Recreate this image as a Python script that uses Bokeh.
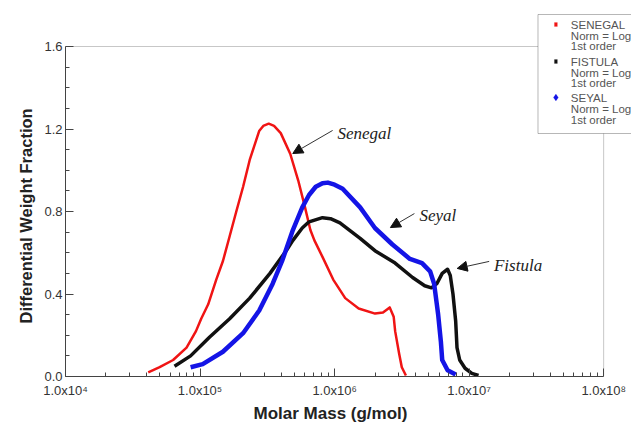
from bokeh.plotting import figure
from bokeh.models import (Range1d, FixedTicker, PrintfTickFormatter, Label, Arrow, NormalHead,
                          BoxAnnotation, PolyAnnotation, Title)
from bokeh.embed import file_html
from bokeh.resources import INLINE

# ---------------- data ----------------
senegal_m = [4.12e4, 5.01e4, 6.31e4, 7.94e4, 9.33e4, 1.02e5, 1.15e5, 1.32e5, 1.48e5, 1.66e5,
             1.86e5, 2.09e5, 2.34e5, 2.75e5, 2.95e5, 3.24e5, 3.55e5, 3.98e5, 4.68e5, 5.37e5,
             6.03e5, 6.61e5, 7.08e5, 8.13e5, 9.77e5, 1.20e6, 1.51e6, 2.00e6, 2.29e6, 2.57e6,
             2.75e6, 2.82e6, 3.02e6, 3.16e6, 3.39e6]
senegal_w = [0.02, 0.045, 0.08, 0.14, 0.22, 0.28, 0.35, 0.47, 0.56, 0.68,
             0.80, 0.92, 1.05, 1.19, 1.215, 1.226, 1.215, 1.18, 1.08, 0.95,
             0.82, 0.71, 0.66, 0.58, 0.47, 0.38, 0.33, 0.305, 0.31, 0.335,
             0.29, 0.22, 0.11, 0.045, 0.005]

fistula_m = [6.46e4, 8.51e4, 1.175e5, 1.66e5, 2.34e5, 3.31e5, 4.37e5, 4.90e5, 5.75e5, 6.46e5,
             8.13e5, 9.33e5, 1.096e6, 1.288e6, 1.549e6, 1.995e6, 2.818e6, 3.802e6, 4.677e6, 5.248e6,
             5.754e6, 6.310e6, 6.918e6, 7.244e6, 7.586e6, 7.943e6, 8.128e6, 8.511e6, 9.333e6, 1.047e7,
             1.175e7]
fistula_w = [0.05, 0.10, 0.19, 0.28, 0.38, 0.50, 0.61, 0.66, 0.72, 0.75,
             0.77, 0.765, 0.745, 0.71, 0.67, 0.61, 0.55, 0.48, 0.44, 0.43,
             0.45, 0.50, 0.52, 0.49, 0.40, 0.27, 0.14, 0.08, 0.04, 0.015,
             0.005]

seyal_m = [8.51e4, 1.047e5, 1.479e5, 2.089e5, 2.754e5, 3.467e5, 4.074e5, 4.898e5, 5.754e5, 6.46e5,
           7.244e5, 8.13e5, 8.913e5, 1.0e6, 1.148e6, 1.549e6, 1.995e6, 2.692e6, 3.631e6, 4.467e6,
           5.129e6, 5.495e6, 5.754e6, 5.888e6, 6.166e6, 6.310e6, 6.918e6, 7.943e6]
seyal_w = [0.045, 0.06, 0.12, 0.21, 0.32, 0.45, 0.56, 0.71, 0.82, 0.88,
           0.92, 0.937, 0.94, 0.93, 0.91, 0.82, 0.72, 0.64, 0.57, 0.55,
           0.51, 0.45, 0.35, 0.30, 0.17, 0.08, 0.03, 0.01]

xtick_values = [1e4, 1e5, 1e6, 1e7, 1e8]
xtick_labels = ["1.0x10\u2074", "1.0x10\u2075", "1.0x10\u2076", "1.0x10\u2077", "1.0x10\u2078"]
ytick_values = [0.0, 0.4, 0.8, 1.2, 1.6]

x_title = "Molar Mass (g/mol)"
y_title = "Differential Weight Fraction"

legend_lines = [["SENEGAL", "Norm = Log", "1st order"],
                ["FISTULA", "Norm = Log", "1st order"],
                ["SEYAL", "Norm = Log", "1st order"]]
series_colors = ["#f01414", "#111111", "#1414e6"]

ann_text = ["Senegal", "Seyal", "Fistula"]
ann_x = [1.05e6, 4.27e6, 1.53e7]
ann_y = [1.178, 0.781, 0.538]
arrow_x0 = [9.67e5, 3.92e6, 1.41e7]
arrow_y0 = [1.193, 0.790, 0.558]
arrow_x1 = [4.89e5, 2.60e6, 8.15e6]
arrow_y1 = [1.081, 0.722, 0.524]

# ---------------- geometry (canvas pixels) ----------------
W, H = 631, 423
AX_L, AX_R, AX_T, AX_B = 62, 603, 46, 376   # where the axes box lies
FR_T = 8                                     # frame extends up/right so the legend can overlap


def px_x(px):
    # canvas pixel -> data x (log axis), used only to place decorations
    return 10 ** (4 + 4 * (px - AX_L) / (AX_R - AX_L))


def px_y(py):
    return 1.6 * (AX_B - py) / (AX_B - AX_T)


p = figure(width=W, height=H, x_axis_type="log",
           x_range=Range1d(1e4, px_x(W)), y_range=Range1d(0, px_y(FR_T)),
           output_backend="svg", toolbar_location=None,
           min_border_left=AX_L + 3, min_border_right=0, min_border_top=FR_T,
           min_border_bottom=H - AX_B)
p.grid.visible = False
p.outline_line_color = None
p.background_fill_color = "white"
p.border_fill_color = "white"

FONT = "Liberation Sans"

minor_x = [k * d for d in [1e4, 1e5, 1e6, 1e7] for k in range(2, 10)]
p.xaxis.ticker = FixedTicker(ticks=xtick_values, minor_ticks=minor_x)
p.xaxis.major_label_overrides = {v: l for v, l in zip(xtick_values, xtick_labels)}
p.xaxis.bounds = (1e4, 1e8)
p.yaxis.ticker = FixedTicker(ticks=ytick_values, minor_ticks=[i / 10 for i in range(1, 16)])
p.yaxis.formatter = PrintfTickFormatter(format="%.1f")
p.yaxis.bounds = (0, 1.6)

for ax in (p.xaxis[0], p.yaxis[0]):
    ax.axis_line_color = "#444444"
    ax.major_tick_line_color = "#444444"
    ax.minor_tick_line_color = "#444444"
    ax.major_tick_in = 8
    ax.major_tick_out = 0
    ax.minor_tick_in = 4
    ax.minor_tick_out = 0
    ax.major_label_text_font = FONT
    ax.major_label_text_font_size = "13px"
    ax.major_label_text_color = "#333333"
p.xaxis.major_label_standoff = 6
p.yaxis.major_label_standoff = 3

# axis titles, positioned along the axes box (not the extended frame)
p.add_layout(Title(text=x_title, align="left", offset=188, standoff=2,
                   text_font=FONT, text_font_style="bold", text_font_size="17px",
                   text_color="#222222"), "below")
p.add_layout(Title(text=y_title, align="left", offset=AX_B - 323, standoff=14,
                   text_font=FONT, text_font_style="bold", text_font_size="16.5px",
                   text_color="#222222"), "left")

# box around the axes area (top and right sides)
p.add_layout(BoxAnnotation(left=1e4, right=1e8, bottom=0, top=1.6, fill_color=None,
                           line_color="#444444", line_width=1))

# ---------------- curves ----------------
p.line(senegal_m, senegal_w, line_color=series_colors[0], line_width=2.5, line_join="round")
p.line(fistula_m, fistula_w, line_color=series_colors[1], line_width=3.5, line_join="round")
p.line(seyal_m, seyal_w, line_color=series_colors[2], line_width=4.5, line_join="round")

# ---------------- legend box (drawn with annotations) ----------------
p.add_layout(BoxAnnotation(left=px_x(537), right=px_x(W + 20), top=px_y(14), bottom=px_y(133),
                           fill_color="white", fill_alpha=1.0,
                           line_color="#111111", line_width=1, level="overlay"))
row_y = [[24, 35, 45], [61, 72, 82], [97, 108, 119]]
for lines, rows, col, i in zip(legend_lines, row_y, series_colors, range(3)):
    for txt, ry in zip(lines, rows):
        p.add_layout(Label(x=px_x(570), y=px_y(ry), text=txt, text_font=FONT,
                           text_font_size="11.5px", text_color="#555555",
                           text_baseline="middle", text_align="left", level="overlay"))
    cy = rows[0]
    if i < 2:
        p.add_layout(BoxAnnotation(left=px_x(553.5), right=px_x(556.5), top=px_y(cy - 2),
                                   bottom=px_y(cy + 2), fill_color=col, fill_alpha=1.0,
                                   line_color=col, line_width=0.5, level="overlay"))
    else:
        p.add_layout(PolyAnnotation(xs=[px_x(555), px_x(557.5), px_x(555), px_x(552.5)],
                                    ys=[px_y(cy - 3.5), px_y(cy), px_y(cy + 3.5), px_y(cy)],
                                    fill_color=col, fill_alpha=1.0, line_color=col,
                                    line_width=0.5, level="overlay"))

# ---------------- annotations ----------------
for t, x, y in zip(ann_text, ann_x, ann_y):
    p.add_layout(Label(x=x, y=y, text=t, text_font="Liberation Serif", text_font_style="italic",
                       text_font_size="17px", text_color="#222222", text_baseline="alphabetic",
                       text_align="left"))
for x0, y0, x1, y1 in zip(arrow_x0, arrow_y0, arrow_x1, arrow_y1):
    p.add_layout(Arrow(x_start=x0, y_start=y0, x_end=x1, y_end=y1, line_color="#333333",
                       line_width=1,
                       end=NormalHead(size=10, fill_color="#111111", line_color="#111111")))

open("out.html", "w").write(file_html(p, INLINE))
